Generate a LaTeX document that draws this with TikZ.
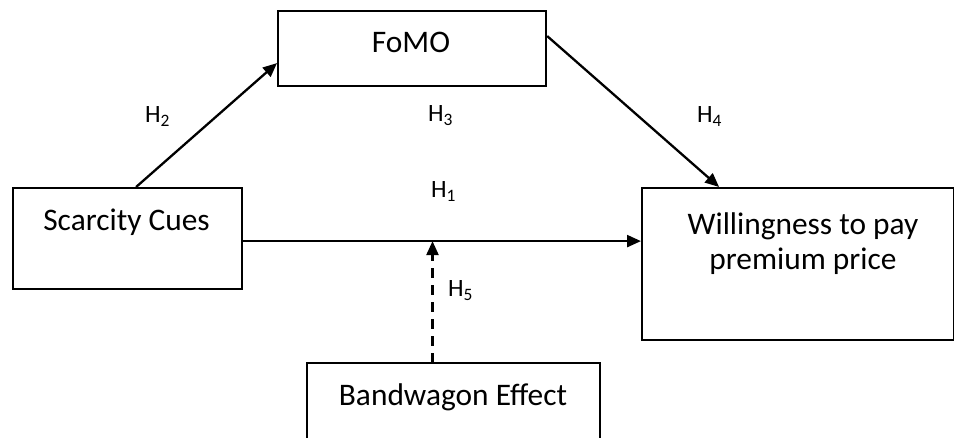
\documentclass[tikz,border=0pt]{standalone}
\usepackage{fontspec}
\setmainfont{Carlito}
\usetikzlibrary{arrows.meta}
\tikzset{
  box/.style={draw, line width=2.2bp, rectangle, inner sep=0pt, anchor=north west},
  plain/.style={inner sep=0pt, outer sep=0pt},
  big/.style={plain, font=\fontsize{31.5}{35}\selectfont, anchor=base},
  hlab/.style={plain, font=\fontsize{25}{29}\selectfont, anchor=base west},
  conn/.style={line width=2.3bp, -{Triangle[length=14bp,width=12bp]}},
}
\begin{document}
\begin{tikzpicture}[x=1bp,y=-1bp]
\useasboundingbox (0,0) rectangle (954,438);
% boxes
\node[box, minimum width=229bp, minimum height=101bp] (sc) at (12,187) {};
\node[box, minimum width=268bp, minimum height=75bp] (fomo) at (277,10) {};
\node[box, minimum width=312bp, minimum height=152bp] (will) at (641,187) {};
\node[plain, anchor=north west, minimum width=293bp, minimum height=76bp] (bw) at (307,363) {};
\draw[line width=2.2bp] (bw.south west) -- (bw.north west) -- (bw.north east) -- (bw.south east);
% texts
\node[big] (tsc) at (126.5,231) {Scarcity Cues};
\node[big] (tfomo) at (411,53) {FoMO};
\node[big] (twill1) at (803,235) {Willingness to pay};
\node[big] (twill2) at (803,270) {premium price};
\node[big] (tbw) at (453,405) {Bandwagon Effect};
% labels
\node[hlab] (h2) at (145,123) {H\textsubscript{2}};
\node[hlab] (h3) at (428,122) {H\textsubscript{3}};
\node[hlab] (h4) at (697,123) {H\textsubscript{4}};
\node[hlab] (h1) at (431,198) {H\textsubscript{1}};
\node[hlab] (h5) at (448,297) {H\textsubscript{5}};
% connectors
\coordinate (h1s) at ([yshift=-2.5bp]sc.east);
\coordinate (bwtop) at ([xshift=-21bp]bw.north);
\draw[conn] ([xshift=8.5bp]sc.north) -- ([yshift=-14.5bp]fomo.west);
\draw[conn] ([yshift=12.5bp]fomo.east) -- ([xshift=-79bp]will.north);
\draw[conn] (h1s) -- (h1s -| will.west);
\draw[conn, dash pattern=on 10bp off 7bp] (bwtop) -- (bwtop |- h1s);
\end{tikzpicture}
\end{document}
